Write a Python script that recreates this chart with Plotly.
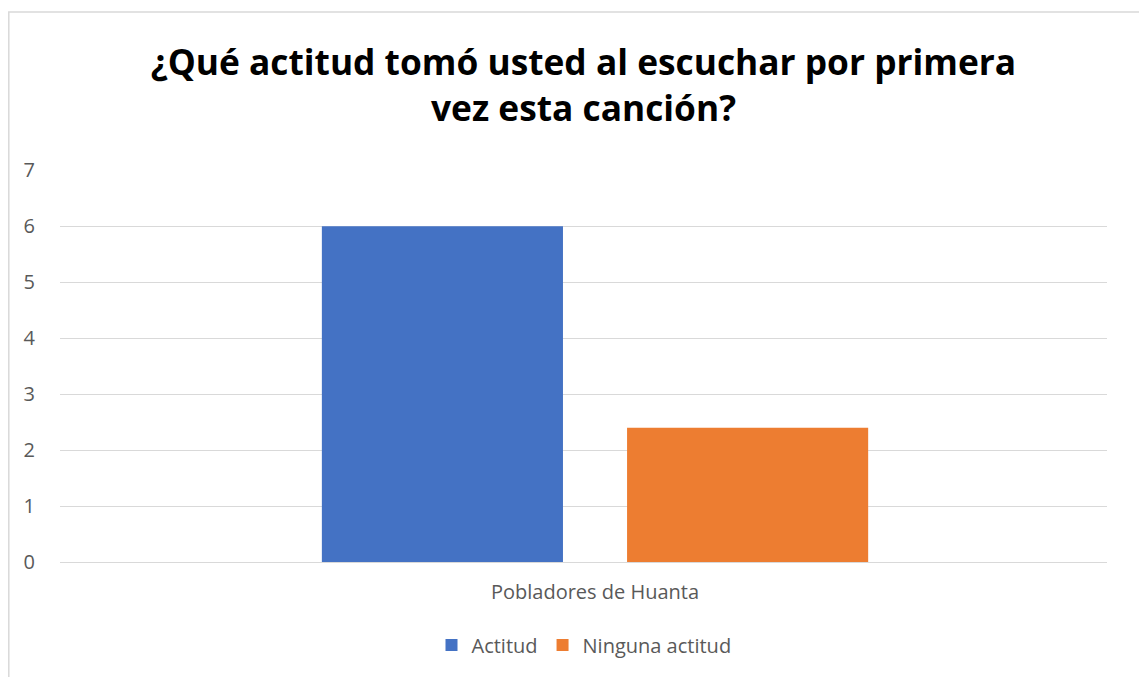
import plotly.graph_objects as go

categories = ["Pobladores de Huanta"]
series_names = ["Actitud", "Ninguna actitud"]
series_values = [[6], [2.4]]
colors = ["#4472C4", "#ED7D31"]
y_ticks = [0, 1, 2, 3, 4, 5, 6, 7]

# page has an 8px body margin; work in figure coordinates (image - 8)
OFF = 8
W, H = 1147 - OFF, 677 - OFF
L = 60 - OFF
T = 170 - OFF
pw, ph = 1047, 392
R = W - L - pw
B = H - T - ph

fig = go.Figure()
for name, vals, c in zip(series_names, series_values, colors):
    fig.add_trace(go.Bar(x=categories, y=vals, name=name, marker=dict(color=c, line=dict(width=0))))

def px2x(p):
    return (p - OFF - L) / pw

def py2y(p):
    return (T + ph - (p - OFF)) / ph

fig.update_layout(
    width=W, height=H,
    margin=dict(l=L, r=R, t=T, b=B),
    paper_bgcolor="white", plot_bgcolor="white",
    barmode="group", bargap=0.417, bargroupgap=0.21,
    title=dict(
        text="¿Qué actitud tomó usted al escuchar por primera<br>vez esta canción?",
        x=(583.5 - OFF) / W, xanchor="center", y=1 - (75 - OFF) / H, yanchor="middle",
        font=dict(family="Open Sans", size=35.3, color="#000000", weight="bold"),
    ),
    font=dict(family="Open Sans", color="#595959", size=20),
    xaxis=dict(range=[-0.511, 0.489], showgrid=False, showline=False, ticks="",
               ticklabelstandoff=16, tickfont=dict(size=20, color="#595959")),
    yaxis=dict(range=[0, 7.005], tickvals=y_ticks, showgrid=True, gridcolor="#D9D9D9", gridwidth=1.3,
               zeroline=True, zerolinecolor="#D9D9D9", zerolinewidth=1.3, showline=False,
               ticks="", ticklen=0, ticklabelstandoff=24, tickfont=dict(size=20, color="#595959")),
    showlegend=True,
    legend=dict(orientation="h", x=px2x(584), xanchor="center", y=py2y(645), yanchor="middle",
                font=dict(size=20, color="#595959"), itemwidth=30, traceorder="normal"),
    shapes=[dict(type="rect", xref="paper", yref="paper",
                 x0=px2x(8.8), x1=px2x(1200), y0=py2y(720), y1=py2y(12),
                 line=dict(color="#D9D9D9", width=1.5), fillcolor="rgba(0,0,0,0)", layer="below")],
)
fig.write_html("out.html")
